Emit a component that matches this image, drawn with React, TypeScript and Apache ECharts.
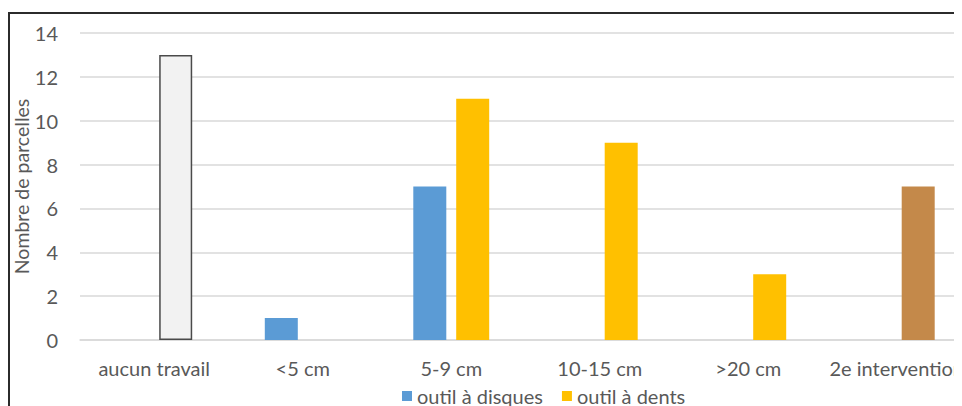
import React, { useEffect, useRef } from "react";
import * as echarts from "echarts";

// Travail du sol : nombre de parcelles par profondeur et par outil
const categories = ["aucun travail", "<5 cm", "5-9 cm", "10-15 cm", ">20 cm", "2e intervention"];
const disques = [null, 1, 7, null, null, null];
const dents = [13, null, 11, 9, 3, 7];
const yTicks = [0, 2, 4, 6, 8, 10, 12, 14];

const FONT = "Lato, 'Open Sans', sans-serif";
const GREY_TEXT = "#595959";
const FS = 20;

export default function App() {
  const ref = useRef<HTMLDivElement>(null);

  useEffect(() => {
    if (!ref.current) return;
    const chart = echarts.init(ref.current, undefined, { renderer: "svg" });

    // special colouring for the first and last columns of the second series
    const dentsData = dents.map((v, i) => {
      if (v === null) return null;
      if (i === 0) {
        return {
          value: v,
          itemStyle: { color: "#F2F2F2", borderColor: "#4a4a4a", borderWidth: 1.5 },
        };
      }
      if (i === categories.length - 1) {
        return { value: v, itemStyle: { color: "#C4894A" } };
      }
      return v;
    });

    chart.setOption({
      animation: false,
      textStyle: { fontFamily: FONT },
      grid: {
        left: 72,
        top: 25,
        width: 891,
        bottom: 66,
        containLabel: false,
        outerBoundsMode: "none",
      },
      graphic: [
        {
          type: "rect",
          shape: { x: 1, y: 5, width: 1100, height: 600 },
          style: { fill: "none", stroke: "#2b2b2b", lineWidth: 2 },
          silent: true,
        },
      ],
      legend: {
        bottom: -5,
        left: 389,
        itemWidth: 10,
        itemHeight: 10,
        itemGap: 19,
        icon: "rect",
        textStyle: { color: GREY_TEXT, fontSize: FS, fontFamily: FONT },
        data: ["outil à disques", "outil à dents"],
      },
      xAxis: {
        type: "category",
        data: categories,
        axisLine: { lineStyle: { color: "#d9d9d9", width: 1.5 } },
        axisTick: { show: false },
        axisLabel: { color: GREY_TEXT, fontSize: FS, margin: 18, interval: 0, fontFamily: FONT },
      },
      yAxis: {
        type: "value",
        min: yTicks[0],
        max: yTicks[yTicks.length - 1],
        interval: 2,
        name: "Nombre de parcelles",
        nameLocation: "middle",
        nameGap: 49,
        nameMoveOverlap: false,
        nameTextStyle: { color: GREY_TEXT, fontSize: 19.5, fontFamily: FONT },
        axisLine: { show: false },
        axisTick: { show: false },
        axisLabel: { color: GREY_TEXT, fontSize: FS, margin: 22, fontFamily: FONT },
        splitLine: { lineStyle: { color: "#d9d9d9", width: 1.5 } },
      },
      series: [
        {
          name: "outil à disques",
          type: "bar",
          data: disques,
          barWidth: 33,
          barGap: "30%",
          itemStyle: { color: "#5B9BD5" },
        },
        {
          name: "outil à dents",
          type: "bar",
          data: dentsData,
          barWidth: 33,
          barGap: "30%",
          itemStyle: { color: "#FFC000" },
        },
      ],
    });

    return () => chart.dispose();
  }, []);

  return (
    <div style={{ width: 954, height: 398, overflow: "hidden" }}>
      <div ref={ref} style={{ width: 954, height: 398 }} />
    </div>
  );
}
